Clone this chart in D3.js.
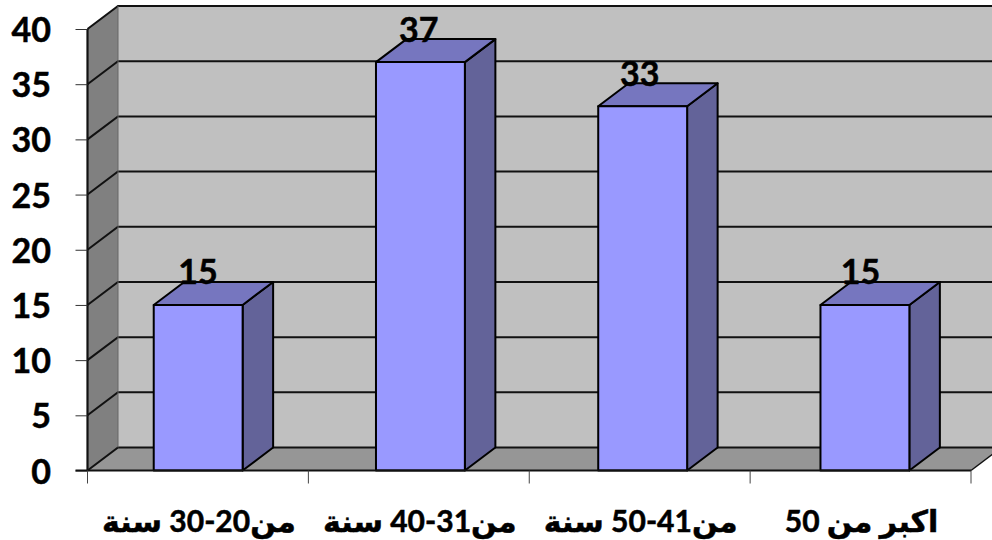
<!DOCTYPE html>
<html lang="ar">
<head>
<meta charset="utf-8">
<script src="https://cdn.jsdelivr.net/npm/d3@7/dist/d3.min.js"></script>
<style>
  html, body { margin: 0; padding: 0; background: #fff; }
  svg { display: block; }
  text { font-family: Lato, "DejaVu Sans", sans-serif; font-weight: 700; fill: #000; stroke: #000; stroke-width: 0.5px; }
</style>
</head>
<body>
<svg id="chart" width="992" height="540"></svg>
<script>
// Age-group counts drawn as a pseudo-3D column chart.
const categories = ["من20-30 سنة", "من31-40 سنة", "من41-50 سنة", "اكبر من 50"];
const values = [15, 37, 33, 15];
const yTicks = [0, 5, 10, 15, 20, 25, 30, 35, 40];

const plotLeft = 87.5, plotRight = 971, plotBottom = 470.5, plotTop = 29;
const barRangeEnd = 975.6;              // columns step slightly wider than the axis bands
const depthX = 30.5, depthY = -23;      // oblique offset of the rear plane

const svg = d3.select("#chart");
const x = d3.scaleBand().domain(categories).range([plotLeft, barRangeEnd]).paddingInner(0.6).paddingOuter(0.298);
const y = d3.scaleLinear().domain([0, 40]).range([plotBottom, plotTop]);
const xEdges = d3.scaleLinear().domain([0, categories.length]).range([plotLeft, plotRight]);
const poly = pts => pts.map(p => p.join(",")).join(" ");

// Walls and floor
const y0 = y(0), yMax = y(40);
const walls = svg.append("g").attr("stroke", "none");
walls.append("polygon").attr("fill", "#c0c0c0")
  .attr("points", poly([[plotLeft + depthX, yMax + depthY], [plotRight + depthX, yMax + depthY], [plotRight + depthX, y0 + depthY], [plotLeft + depthX, y0 + depthY]]));
walls.append("polygon").attr("fill", "#808080")
  .attr("points", poly([[plotLeft, yMax], [plotLeft + depthX, yMax + depthY], [plotLeft + depthX, y0 + depthY], [plotLeft, y0]]));
walls.append("polygon").attr("fill", "#969696")
  .attr("points", poly([[plotLeft, y0], [plotLeft + depthX, y0 + depthY], [plotRight + depthX, y0 + depthY], [plotRight, y0]]));

// Gridlines run along the side wall and across the rear wall
const grid = svg.append("g").attr("fill", "none").attr("stroke", "#111").attr("stroke-width", 2);
yTicks.forEach(t => {
  grid.append("polyline").attr("points", poly([[plotLeft, y(t)], [plotLeft + depthX, y(t) + depthY], [plotRight + depthX, y(t) + depthY]]));
});
grid.append("line").attr("x1", plotLeft).attr("x2", plotLeft).attr("y1", yMax).attr("y2", y0).attr("stroke-width", 2.2);
grid.append("line").attr("x1", plotLeft + depthX).attr("x2", plotLeft + depthX).attr("y1", yMax + depthY).attr("y2", y0 + depthY)
  .attr("stroke", "#666").attr("stroke-width", 1);
grid.append("line").attr("x1", plotRight).attr("x2", plotRight + depthX).attr("y1", y0).attr("y2", y0 + depthY).attr("stroke-width", 1.5);

// Columns: side, top, then front face
const bars = svg.append("g").selectAll("g").data(categories).join("g")
  .attr("stroke", "#000").attr("stroke-width", 2).attr("stroke-linejoin", "round");
bars.append("polygon").attr("fill", "#636399")
  .attr("points", (d, i) => {
    const xr = x(d) + x.bandwidth(), t = y(values[i]);
    return poly([[xr, t], [xr + depthX, t + depthY], [xr + depthX, y0 + depthY], [xr, y0]]);
  });
bars.append("polygon").attr("fill", "#7676bf")
  .attr("points", (d, i) => {
    const xl = x(d), xr = xl + x.bandwidth(), t = y(values[i]);
    return poly([[xl, t], [xl + depthX, t + depthY], [xr + depthX, t + depthY], [xr, t]]);
  });
bars.append("rect").attr("fill", "#9999ff")
  .attr("x", d => x(d)).attr("width", x.bandwidth())
  .attr("y", (d, i) => y(values[i])).attr("height", (d, i) => y0 - y(values[i]));

// Value labels sit above each column, centred on the axis band
svg.append("g").selectAll("text").data(categories).join("text")
  .attr("text-anchor", "middle").attr("font-size", 34)
  .attr("x", (d, i) => xEdges(i + 0.5))
  .attr("y", (d, i) => y(values[i]) - 20.5)
  .text((d, i) => values[i]);

// Value axis
const yAxis = svg.append("g").attr("transform", `translate(${plotLeft},0)`)
  .call(d3.axisLeft(y).tickValues(yTicks).tickSize(12).tickPadding(24.5));
yAxis.select(".domain").remove();
yAxis.selectAll("line").attr("stroke", "#333").attr("stroke-width", 1);
yAxis.selectAll("text").attr("font-size", 34).attr("font-family", "Lato").attr("font-weight", 700).attr("dy", "0.37em");

// Category axis: ticks mark the band edges, labels are centred on the bands
const xAxis = svg.append("g").attr("transform", `translate(0,${plotBottom})`);
xAxis.append("line").attr("x1", plotLeft - 12).attr("x2", plotRight).attr("stroke", "#111").attr("stroke-width", 2);
xAxis.selectAll("line.edge").data(d3.range(categories.length + 1)).join("line").attr("class", "edge")
  .attr("x1", xEdges).attr("x2", xEdges).attr("y1", 0).attr("y2", 13)
  .attr("stroke", "#444").attr("stroke-width", 1);

svg.append("g").selectAll("text").data(categories).join("text")
  .attr("text-anchor", "middle").attr("direction", "rtl")
  .attr("font-size", 30)
  .attr("x", (d, i) => xEdges(i + 0.5) + 1)
  .attr("y", 532)
  .text(d => d);
</script>
</body>
</html>
